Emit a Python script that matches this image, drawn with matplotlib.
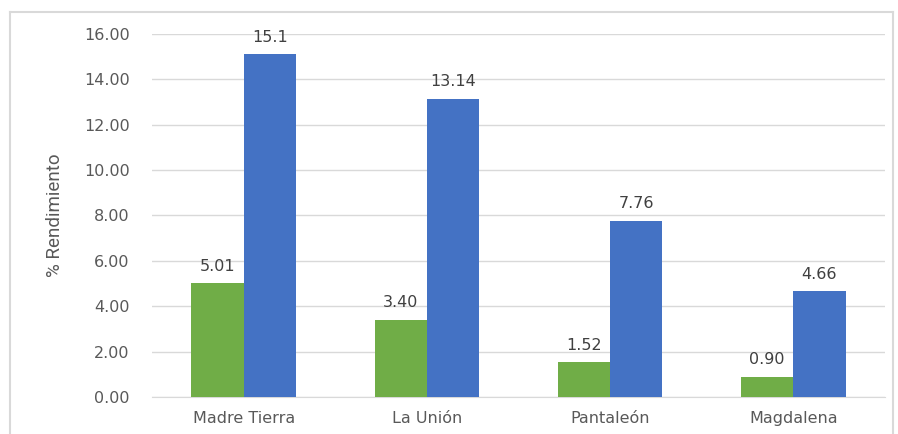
import numpy as np
import matplotlib.pyplot as plt
from matplotlib.lines import Line2D

# data
sitios = ['Madre Tierra', 'La Unión', 'Pantaleón', 'Magdalena']
serie_verde = [5.01, 3.40, 1.52, 0.90]
serie_azul = [15.1, 13.14, 7.76, 4.66]
etq_verde = ['5.01', '3.40', '1.52', '0.90']
etq_azul = ['15.1', '13.14', '7.76', '4.66']
yticks = np.arange(0, 17, 2)

gris = '#595959'
plt.rcParams['font.family'] = ['DejaVu Sans']

fig = plt.figure(figsize=(8.98, 4.34), dpi=100)
ax = fig.add_axes([0.1693, 0.0853, 0.8162, 0.8364])

x = np.arange(len(sitios))
w = 0.285
b1 = ax.bar(x - w / 2, serie_verde, w, color='#70AD47', zorder=3)
b2 = ax.bar(x + w / 2, serie_azul, w, color='#4472C4', zorder=3)

for bars, etq in ((b1, etq_verde), (b2, etq_azul)):
    for r, t in zip(bars, etq):
        ax.annotate(t, (r.get_x() + r.get_width() / 2, r.get_height()),
                    xytext=(0, 7), textcoords='offset points',
                    ha='center', va='bottom', fontsize=11.5, color='#404040')

ax.set_xlim(-0.5, len(sitios) - 0.5)
ax.set_ylim(0, 16)
ax.set_yticks(yticks)
ax.set_yticklabels(['%.2f' % v for v in yticks])
ax.set_xticks(x)
ax.set_xticklabels(sitios)
ax.tick_params(length=0, labelsize=11.5, colors=gris)
ax.tick_params(axis='y', pad=16)
ax.tick_params(axis='x', pad=10)
ax.grid(axis='y', color='#d9d9d9', linewidth=1, zorder=0)
for s in ['top', 'right', 'left']:
    ax.spines[s].set_visible(False)
ax.spines['bottom'].set_color('#d9d9d9')
ax.set_ylabel('% Rendimiento', fontsize=13.5, color=gris,
              family=['Roboto', 'DejaVu Sans'])
ax.yaxis.set_label_coords(-0.12, 0.5)

# marco del grafico
x0, x1 = 10 / 898, 893 / 898
y1 = 1 - 12 / 434
for xs, ys in (([x0, x0], [0, y1]), ([x0, x1], [y1, y1]), ([x1, x1], [y1, 0])):
    fig.add_artist(Line2D(xs, ys, transform=fig.transFigure, color='#d9d9d9', lw=1.5))

fig.savefig('out.png', dpi=100)
